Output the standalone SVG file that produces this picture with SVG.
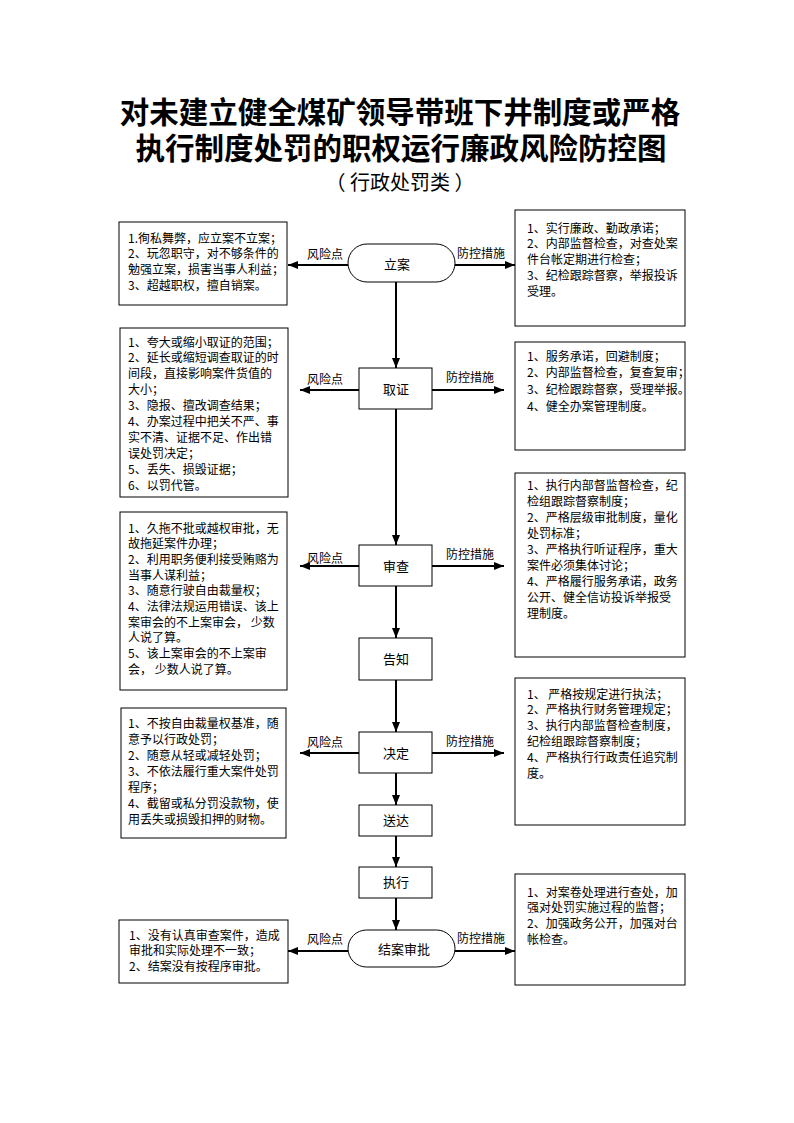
<svg xmlns="http://www.w3.org/2000/svg" width="794" height="1123" viewBox="0 0 794 1123">
<style>
text{font-family:"Noto Sans CJK SC","Liberation Sans",sans-serif;fill:#000}
.title{font-size:29.5px;font-weight:700;text-anchor:middle}
.sub{font-size:20px;text-anchor:middle}
.body{font-size:12px}
.lbl{font-size:12px}
.node{font-size:13px;text-anchor:middle}
.box{fill:#fff;stroke:#000;stroke-width:1}
.ln{stroke:#000;stroke-width:2;fill:none;marker-end:url(#ah)}
</style>
<defs>
<marker id="ah" markerUnits="userSpaceOnUse" markerWidth="10" markerHeight="8" refX="10" refY="4" orient="auto">
<path d="M0,0 L10,4 L0,8 z" fill="#000"/>
</marker>
</defs>
<rect width="794" height="1123" fill="#fff"/>
<g id="title">
<text class="title" x="400" y="123"><tspan x="400">对未建立健全煤矿领导带班下井制度或严格</tspan><tspan x="401" dy="36">执行制度处罚的职权运行廉政风险防控图</tspan></text>
<text class="sub" x="400" y="190" xml:space="preserve">（ 行政处罚类 ）</text>
</g>
<g id="connectors">
<line class="ln" x1="396" y1="282" x2="396" y2="368"/>
<line class="ln" x1="396" y1="409" x2="396" y2="545"/>
<line class="ln" x1="396" y1="586" x2="396" y2="638"/>
<line class="ln" x1="396" y1="680" x2="396" y2="732"/>
<line class="ln" x1="396" y1="773" x2="396" y2="805"/>
<line class="ln" x1="396" y1="836" x2="396" y2="867"/>
<line class="ln" x1="396" y1="898" x2="396" y2="930"/>
<line class="ln" x1="348" y1="265" x2="288" y2="265"/>
<line class="ln" x1="455" y1="265" x2="515" y2="265"/>
<line class="ln" x1="359" y1="390" x2="300" y2="390"/>
<line class="ln" x1="432" y1="390" x2="504" y2="390"/>
<line class="ln" x1="359" y1="566" x2="300" y2="566"/>
<line class="ln" x1="432" y1="566" x2="504" y2="566"/>
<line class="ln" x1="359" y1="753" x2="300" y2="753"/>
<line class="ln" x1="432" y1="753" x2="504" y2="753"/>
<line class="ln" x1="348" y1="951" x2="288" y2="951"/>
<line class="ln" x1="455" y1="951" x2="515" y2="951"/>
<text class="lbl" x="307" y="258.5">风险点</text>
<text class="lbl" x="457" y="257.5">防控措施</text>
<text class="lbl" x="307" y="383.5">风险点</text>
<text class="lbl" x="446" y="381.5">防控措施</text>
<text class="lbl" x="307" y="562.5">风险点</text>
<text class="lbl" x="446" y="558.5">防控措施</text>
<text class="lbl" x="307" y="746.5">风险点</text>
<text class="lbl" x="446" y="745.5">防控措施</text>
<text class="lbl" x="307" y="943.5">风险点</text>
<text class="lbl" x="457" y="942.5">防控措施</text>
</g>
<g id="n_lian">
<rect class="box" x="348" y="244" width="107" height="38" rx="19" ry="19"/>
<text class="node" x="397" y="268.5">立案</text>
</g>
<g id="n_quzheng">
<rect class="box" x="359" y="368" width="73" height="41"/>
<text class="node" x="396" y="393.5">取证</text>
</g>
<g id="n_shencha">
<rect class="box" x="359" y="545" width="73" height="41"/>
<text class="node" x="396" y="570.5">审查</text>
</g>
<g id="n_gaozhi">
<rect class="box" x="359" y="638" width="73" height="42"/>
<text class="node" x="396" y="663.5">告知</text>
</g>
<g id="n_jueding">
<rect class="box" x="359" y="732" width="73" height="41"/>
<text class="node" x="396" y="757.5">决定</text>
</g>
<g id="n_songda">
<rect class="box" x="359" y="805" width="73" height="31"/>
<text class="node" x="396" y="825">送达</text>
</g>
<g id="n_zhixing">
<rect class="box" x="359" y="867" width="73" height="31"/>
<text class="node" x="396" y="887">执行</text>
</g>
<g id="n_jiean">
<rect class="box" x="348" y="930" width="107" height="37" rx="18.5" ry="18.5"/>
<text class="node" x="404" y="954">结案审批</text>
</g>
<g id="risk1">
<rect class="box" x="119" y="222" width="168" height="83"/>
<text class="body" x="128" y="242.5"><tspan x="128">1.徇私舞弊，应立案不立案；</tspan><tspan x="128" dy="15.8">2、玩忽职守，对不够条件的</tspan><tspan x="128" dy="15.8">勉强立案，损害当事人利益；</tspan><tspan x="128" dy="15.8">3、超越职权，擅自销案。</tspan></text>
</g>
<g id="ctrl1">
<rect class="box" x="515" y="210" width="170" height="116"/>
<text class="body" x="527" y="232.5"><tspan x="527">1、实行廉政、勤政承诺；</tspan><tspan x="527" dy="15.8">2、内部监督检查，对查处案</tspan><tspan x="527" dy="15.8">件台帐定期进行检查；</tspan><tspan x="527" dy="15.8">3、纪检跟踪督察，举报投诉</tspan><tspan x="527" dy="15.8">受理。</tspan></text>
</g>
<g id="risk2">
<rect class="box" x="120" y="328" width="168" height="169"/>
<text class="body" x="128" y="346.5"><tspan x="128">1、夸大或缩小取证的范围；</tspan><tspan x="128" dy="15.9">2、延长或缩短调查取证的时</tspan><tspan x="128" dy="15.9">间段，直接影响案件货值的</tspan><tspan x="128" dy="15.9">大小；</tspan><tspan x="128" dy="15.9">3、隐报、擅改调查结果；</tspan><tspan x="128" dy="15.9">4、办案过程中把关不严、事</tspan><tspan x="128" dy="15.9">实不清、证据不足、作出错</tspan><tspan x="128" dy="15.9">误处罚决定；</tspan><tspan x="128" dy="15.9">5、丢失、损毁证据；</tspan><tspan x="128" dy="15.9">6、以罚代管。</tspan></text>
</g>
<g id="ctrl2">
<rect class="box" x="515" y="342" width="170" height="108"/>
<text class="body" x="527" y="360.5"><tspan x="527">1、服务承诺，回避制度；</tspan><tspan x="527" dy="16.8">2、内部监督检查，复查复审；</tspan><tspan x="527" dy="16.8">3、纪检跟踪督察，受理举报。</tspan><tspan x="527" dy="16.8">4、健全办案管理制度。</tspan></text>
</g>
<g id="risk3">
<rect class="box" x="120" y="512" width="167" height="178"/>
<text class="body" x="128" y="532.5" xml:space="preserve"><tspan x="128">1、久拖不批或越权审批，无</tspan><tspan x="128" dy="15.7">故拖延案件办理；</tspan><tspan x="128" dy="15.7">2、利用职务便利接受贿赂为</tspan><tspan x="128" dy="15.7">当事人谋利益；</tspan><tspan x="128" dy="15.7">3、随意行驶自由裁量权；</tspan><tspan x="128" dy="15.7">4、法律法规运用错误、该上</tspan><tspan x="128" dy="15.7">案审会的不上案审会， 少数</tspan><tspan x="128" dy="15.7">人说了算。</tspan><tspan x="128" dy="15.7">5、该上案审会的不上案审</tspan><tspan x="128" dy="15.7">会， 少数人说了算。</tspan></text>
</g>
<g id="ctrl3">
<rect class="box" x="515" y="473" width="170" height="184"/>
<text class="body" x="527" y="489.5"><tspan x="527">1、执行内部督监督检查，纪</tspan><tspan x="527" dy="16">检组跟踪督察制度；</tspan><tspan x="527" dy="16">2、严格层级审批制度，量化</tspan><tspan x="527" dy="16">处罚标准；</tspan><tspan x="527" dy="16">3、严格执行听证程序，重大</tspan><tspan x="527" dy="16">案件必须集体讨论；</tspan><tspan x="527" dy="16">4、严格履行服务承诺，政务</tspan><tspan x="527" dy="16">公开、健全信访投诉举报受</tspan><tspan x="527" dy="16">理制度。</tspan></text>
</g>
<g id="risk4">
<rect class="box" x="121" y="708" width="165" height="130"/>
<text class="body" x="128" y="727.5"><tspan x="128">1、不按自由裁量权基准，随</tspan><tspan x="128" dy="16.1">意予以行政处罚；</tspan><tspan x="128" dy="16.1">2、随意从轻或减轻处罚；</tspan><tspan x="128" dy="16.1">3、不依法履行重大案件处罚</tspan><tspan x="128" dy="16.1">程序；</tspan><tspan x="128" dy="16.1">4、截留或私分罚没款物，使</tspan><tspan x="128" dy="16.1">用丢失或损毁扣押的财物。</tspan></text>
</g>
<g id="ctrl4">
<rect class="box" x="515" y="678" width="170" height="147"/>
<text class="body" x="527" y="698.5" xml:space="preserve"><tspan x="527">1、 严格按规定进行执法；</tspan><tspan x="527" dy="15.9">2、严格执行财务管理规定；</tspan><tspan x="527" dy="15.9">3、执行内部监督检查制度，</tspan><tspan x="527" dy="15.9">纪检组跟踪督察制度；</tspan><tspan x="527" dy="15.9">4、严格执行行政责任追究制</tspan><tspan x="527" dy="15.9">度。</tspan></text>
</g>
<g id="risk5">
<rect class="box" x="119" y="920" width="169" height="63"/>
<text class="body" x="129" y="939.5"><tspan x="129">1、没有认真审查案件，造成</tspan><tspan x="129" dy="15.8">审批和实际处理不一致；</tspan><tspan x="129" dy="15.8">2、结案没有按程序审批。</tspan></text>
</g>
<g id="ctrl5">
<rect class="box" x="515" y="874" width="170" height="111"/>
<text class="body" x="527" y="896.5"><tspan x="527">1、对案卷处理进行查处，加</tspan><tspan x="527" dy="15.8">强对处罚实施过程的监督；</tspan><tspan x="527" dy="15.8">2、加强政务公开，加强对台</tspan><tspan x="527" dy="15.8">帐检查。</tspan></text>
</g>
</svg>
